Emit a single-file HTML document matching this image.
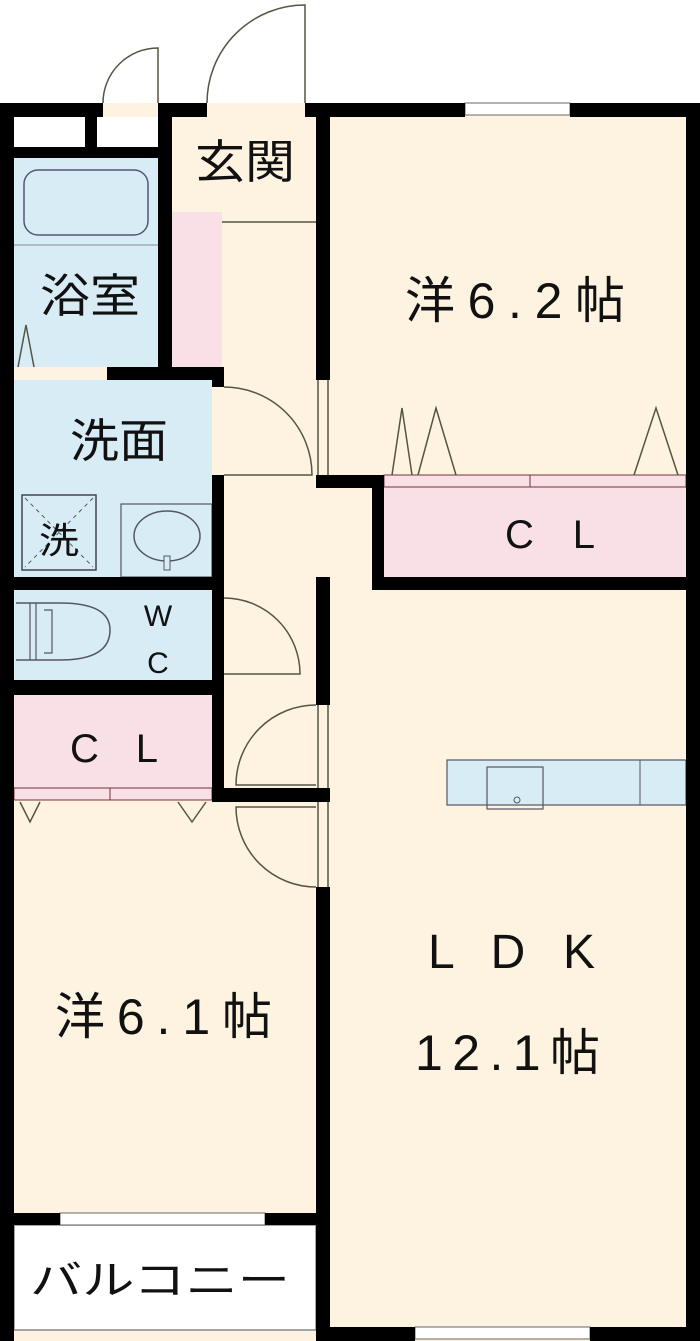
<!DOCTYPE html>
<html><head><meta charset="utf-8"><style>
html,body{margin:0;padding:0;background:#fff;}
svg{display:block;}
text{font-family:"Liberation Sans","Noto Sans CJK JP",sans-serif;fill:#111;}
</style></head><body>
<svg width="700" height="1341" viewBox="0 0 700 1341" xmlns="http://www.w3.org/2000/svg">
<rect x="0" y="103" width="700" height="1238" fill="#fdf3e0"/>
<rect x="14" y="117" width="71" height="30" fill="#fff"/>
<rect x="97" y="117" width="61" height="30" fill="#fff"/>
<rect x="14" y="158" width="144" height="209" fill="#d8ecf6"/>
<rect x="172" y="212" width="50" height="155" fill="#f9dfe6"/>
<rect x="14" y="380" width="198" height="197" fill="#d8ecf6"/>
<rect x="14" y="590" width="198" height="90" fill="#d8ecf6"/>
<rect x="14" y="695" width="198" height="93" fill="#f9dfe6"/>
<rect x="384" y="487" width="302" height="90" fill="#f9dfe6"/>
<rect x="14" y="1225" width="302" height="105" fill="#fff"/>
<rect x="14" y="1225" width="302" height="105" fill="none" stroke="#888" stroke-width="1.5"/>
<rect x="24" y="170" width="124" height="65" rx="14" fill="none" stroke="#557" stroke-width="1.5"/>
<line x1="14" y1="245" x2="158" y2="245" stroke="#889" stroke-width="1"/>
<rect x="22" y="495" width="74" height="75" fill="none" stroke="#445" stroke-width="1.5"/>
<line x1="25" y1="498" x2="93" y2="567" stroke="#556" stroke-dasharray="4 4"/>
<line x1="93" y1="498" x2="25" y2="567" stroke="#556" stroke-dasharray="4 4"/>
<rect x="121" y="504" width="91" height="73" fill="none" stroke="#556" stroke-width="1.2"/>
<ellipse cx="167" cy="536" rx="33" ry="25" fill="none" stroke="#556" stroke-width="1.5"/>
<rect x="164" y="556" width="6" height="14" fill="#d8ecf6" stroke="#556"/>
<path d="M16 603 H60 Q110 603 110 630 Q110 660 60 660 H16" fill="none" stroke="#556" stroke-width="1.5"/>
<path d="M30 603 V660 M36 603 V660 M44 610 H52 V653 H44" fill="none" stroke="#556" stroke-width="1.2"/>
<rect x="447" y="760" width="239" height="45" fill="#d8ecf6" stroke="#556" stroke-width="1.2"/>
<line x1="640" y1="760" x2="640" y2="805" stroke="#556"/>
<rect x="487" y="767" width="56" height="42" fill="none" stroke="#556" stroke-width="1.2"/>
<circle cx="517" cy="800" r="3" fill="none" stroke="#556"/>
<rect x="14" y="788" width="198" height="12" fill="#f9dfe6" stroke="#733" stroke-width="1"/>
<line x1="110" y1="788" x2="110" y2="800" stroke="#733"/>
<rect x="384" y="475" width="302" height="12" fill="#f9dfe6" stroke="#733" stroke-width="1"/>
<line x1="530" y1="475" x2="530" y2="487" stroke="#733"/>
<g fill="none" stroke="#554" stroke-width="1.5">
<path d="M20 802 L30 822 L40 802 M178 802 L192 822 L206 802"/>
<path d="M392 475 L402 408 L412 475 M418 475 L436 408 L456 475 M634 475 L656 408 L678 475"/>
<path d="M18 367 L26 325 L34 367"/>
<path d="M224 387 A88 88 0 0 1 312 475 H224"/>
<path d="M224 598 A76 76 0 0 1 300 674 H224"/>
<path d="M316 705 A80 80 0 0 0 236 785 H316"/>
<path d="M316 887 A80 80 0 0 1 236 807 H316"/>
<path d="M207 103 A98 98 0 0 1 305 5 V103"/>
<path d="M103 103 A55 55 0 0 1 158 48 V103"/>
<line x1="222" y1="222" x2="316" y2="222"/>
<line x1="318" y1="380" x2="318" y2="475"/><line x1="328" y1="380" x2="328" y2="475"/>
<line x1="318" y1="705" x2="318" y2="887"/><line x1="328" y1="705" x2="328" y2="887"/>
</g>
<g fill="#fff" stroke="#666" stroke-width="1">
<rect x="465" y="103" width="105" height="12"/>
<rect x="60" y="1213" width="205" height="12"/>
<rect x="415" y="1327" width="175" height="12"/>
</g>
<g fill="#000">
<rect x="0" y="103" width="103" height="14"/>
<rect x="158" y="103" width="49" height="14"/>
<rect x="305" y="103" width="160" height="14"/>
<rect x="570" y="103" width="130" height="14"/>
<rect x="0" y="103" width="14" height="1238"/>
<rect x="686" y="103" width="14" height="1238"/>
<rect x="85" y="117" width="12" height="30"/>
<rect x="14" y="147" width="158" height="11"/>
<rect x="158" y="103" width="14" height="277"/>
<rect x="107" y="367" width="117" height="13"/>
<rect x="212" y="380" width="12" height="7"/>
<rect x="212" y="475" width="12" height="325"/>
<rect x="316" y="103" width="14" height="277"/>
<rect x="316" y="475" width="68" height="13"/>
<rect x="372" y="475" width="12" height="115"/>
<rect x="372" y="577" width="314" height="13"/>
<rect x="316" y="577" width="14" height="128"/>
<rect x="0" y="577" width="224" height="13"/>
<rect x="0" y="680" width="224" height="15"/>
<rect x="212" y="788" width="118" height="14"/>
<rect x="316" y="887" width="14" height="454"/>
<rect x="0" y="1213" width="60" height="12"/>
<rect x="265" y="1213" width="65" height="12"/>
<rect x="316" y="1327" width="99" height="14"/>
<rect x="590" y="1327" width="110" height="14"/>
</g>
<text x="195" y="178" font-size="46" textLength="100" lengthAdjust="spacingAndGlyphs">玄関</text>
<text x="40" y="312" font-size="46" textLength="100" lengthAdjust="spacingAndGlyphs">浴室</text>
<text x="70" y="457" font-size="46" textLength="98" lengthAdjust="spacingAndGlyphs">洗面</text>
<text x="39" y="553" font-size="36" textLength="40" lengthAdjust="spacingAndGlyphs">洗</text>
<text x="158" y="626" font-size="30" text-anchor="middle">W</text>
<text x="158" y="673" font-size="30" text-anchor="middle">C</text>
<text x="70" y="762" font-size="40" textLength="88" lengthAdjust="spacing">C L</text>
<text x="505" y="548" font-size="40" textLength="90" lengthAdjust="spacing">C L</text>
<text x="405" y="318" font-size="50" textLength="220" lengthAdjust="spacing">洋6.2帖</text>
<text x="55" y="1034" font-size="50" textLength="217" lengthAdjust="spacing">洋6.1帖</text>
<text x="428" y="968" font-size="48" textLength="167" lengthAdjust="spacing">L D K</text>
<text x="415" y="1070" font-size="50" textLength="185" lengthAdjust="spacing">12.1帖</text>
<text x="30" y="1294" font-size="40" textLength="260" lengthAdjust="spacingAndGlyphs">バルコニー</text>
</svg>
</body></html>
